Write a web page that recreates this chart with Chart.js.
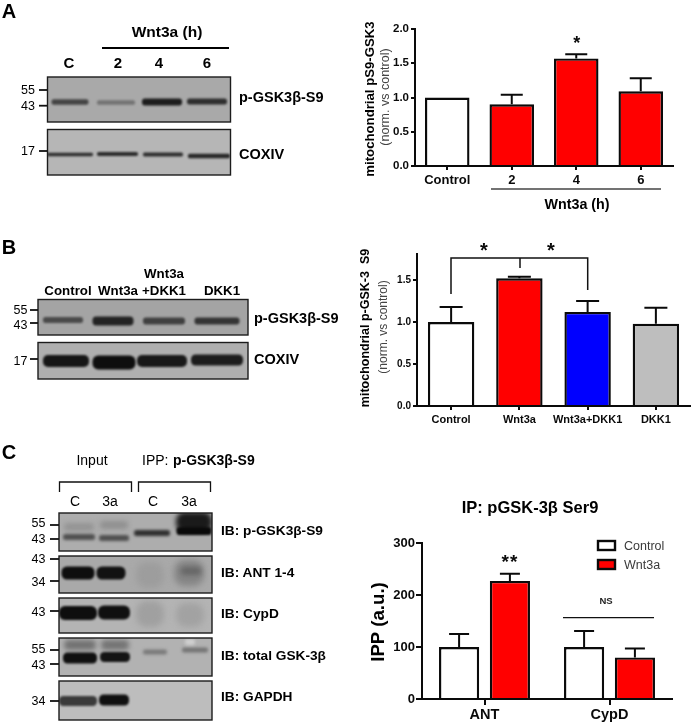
<!DOCTYPE html>
<html><head><meta charset="utf-8">
<script src="https://cdn.jsdelivr.net/npm/chart.js@4/dist/chart.umd.min.js"></script>
<style>
html,body{margin:0;padding:0;background:#fff;}
#page{position:relative;width:693px;height:724px;overflow:hidden;font-family:"Liberation Sans",Arial,sans-serif;filter:blur(0.3px);}
canvas{position:absolute;}
.t{position:absolute;white-space:pre;transform:translate(-50%,-50%);line-height:1;color:#000;z-index:5;}
.l{transform:translate(0,-50%);}
.b{font-weight:bold;}
.r{transform:translate(-50%,-50%) rotate(-90deg);}
</style></head><body>
<div id="page">
<canvas id="bg" width="693" height="724" style="left:0;top:0"></canvas>
<canvas id="chartA" width="343" height="220" style="left:350px;top:0"></canvas>
<canvas id="chartB" width="343" height="210" style="left:350px;top:225px"></canvas>
<canvas id="chartC" width="343" height="244" style="left:350px;top:480px"></canvas>
</div>
<script>
/* ---- chart values ---- */
const aCategories=['Control','2','4','6'];
const aMeans=[1.0,0.90,1.57,1.09];
const aErrors=[0,0.14,0.06,0.19];
const aColors=['#ffffff','#ff0000','#ff0000','#ff0000'];

const bCategories=['Control','Wnt3a','Wnt3a+DKK1','DKK1'];
const bMeans=[1.0,1.52,1.12,0.98];
const bErrors=[0.18,0.02,0.13,0.19];
const bColors=['#ffffff','#ff0000','#0000ff','#bebebe'];

const cCategories=['ANT','CypD'];
const cControl=[100,100];
const cControlErrors=[25,31];
const cWnt3a=[227,80];
const cWnt3aErrors=[14,17];

const INK='#0a0a0a';

/* error bars drawn through the chart's own scales */
const errorBars={id:'errorBars',afterDatasetsDraw(chart,args,opts){
  const c=chart.ctx,y=chart.scales.y;
  chart.data.datasets.forEach((ds,i)=>{
    const meta=chart.getDatasetMeta(i);
    meta.data.forEach((el,k)=>{
      const e=ds.errors[k]; if(!e) return;
      const top=y.getPixelForValue(ds.data[k]+e), cap=opts.cap;
      c.save();c.strokeStyle=INK;c.lineWidth=opts.width;
      c.beginPath();c.moveTo(el.x,el.y);c.lineTo(el.x,top);
      c.moveTo(el.x-cap/2,top);c.lineTo(el.x+cap/2,top);c.stroke();c.restore();
    });
  });
}};
/* legend for panel C, from the dataset labels and colours */
const boxLegend={id:'boxLegend',afterDraw(chart,args,opts){
  if(!opts.show) return;
  const c=chart.ctx;
  chart.data.datasets.forEach((ds,i)=>{
    const y=opts.y+i*opts.gap;
    c.save();c.fillStyle=ds.backgroundColor;c.strokeStyle=INK;c.lineWidth=2.4;
    c.fillRect(opts.x,y,17,9);c.strokeRect(opts.x,y,17,9);
    c.fillStyle='#3a3a3a';c.font='12.5px "Liberation Sans"';c.textBaseline='middle';
    c.fillText(ds.label,opts.x+26,y+6);c.restore();
  });
}};
Chart.register(errorBars,boxLegend);

function axes(o){
  const tickFont={family:'"Liberation Sans"',weight:'bold',size:o.yFont};
  return {
    x:{type:'category',offset:true,
       grid:{display:true,drawOnChartArea:false,drawTicks:true,tickLength:o.tick,color:INK,lineWidth:2,offset:false,
             tickColor:INK},
       border:{color:INK,width:2},
       ticks:{color:INK,font:{family:'"Liberation Sans"',weight:'bold',size:o.xFont},maxRotation:0,autoSkip:false,padding:o.xPad},
       afterFit(s){s.height=o.xH;}},
    y:{type:'linear',min:0,max:o.max,
       grid:{display:true,drawOnChartArea:false,drawTicks:true,tickLength:o.tick,color:INK,lineWidth:2},
       border:{color:INK,width:2},
       ticks:{color:INK,stepSize:o.step,includeBounds:false,font:tickFont,padding:o.yPad,
              callback:o.fmt},
       afterFit(s){s.width=o.yW;}}
  };
}
function base(o,legend){
  return {responsive:false,animation:false,devicePixelRatio:1,
    layout:{padding:o.pad},
    plugins:{legend:{display:false},tooltip:{enabled:false},title:{display:false},
      errorBars:{cap:o.cap,width:2},boxLegend:legend||{show:false}},
    scales:axes(o)};
}

new Chart(document.getElementById('chartA'),{type:'bar',
  data:{labels:aCategories,datasets:[{data:aMeans,errors:aErrors,backgroundColor:aColors,borderColor:INK,
    borderWidth:2.4,borderSkipped:'bottom',barPercentage:0.69,categoryPercentage:1}]},
  options:base({pad:{left:0,top:29,right:20,bottom:0},yW:65,xH:54,max:2,step:0.5,tick:4,yFont:11.5,xFont:13,xPad:3,yPad:2,cap:22,
    fmt:v=>v.toFixed(1)})});

new Chart(document.getElementById('chartB'),{type:'bar',
  data:{labels:bCategories,datasets:[{data:bMeans,errors:bErrors,backgroundColor:bColors,borderColor:INK,
    borderWidth:2.4,borderSkipped:'bottom',barPercentage:0.68,categoryPercentage:1}]},
  options:base({pad:{left:0,top:29,right:3,bottom:0},yW:67,xH:29,max:1.81,step:0.5,tick:4,yFont:10,xFont:11,xPad:3,yPad:2,cap:23,
    fmt:v=>v.toFixed(1)})});

new Chart(document.getElementById('chartC'),{type:'bar',
  data:{labels:cCategories,datasets:[
    {label:'Control',data:cControl,errors:cControlErrors,backgroundColor:'#ffffff',borderColor:INK,borderWidth:2.4,borderSkipped:'bottom',barPercentage:0.79,categoryPercentage:0.813},
    {label:'Wnt3a',data:cWnt3a,errors:cWnt3aErrors,backgroundColor:'#ff0000',borderColor:INK,borderWidth:2.4,borderSkipped:'bottom',barPercentage:0.79,categoryPercentage:0.813}]},
  options:base({pad:{left:0,top:63,right:21,bottom:0},yW:72,xH:25,max:300,step:100,tick:6,yFont:13,xFont:14.5,xPad:1,yPad:1,cap:20,
    fmt:v=>String(v)},{show:true,x:248,y:61,gap:19})});

/* ---- the western-blot photographs, painted on a backdrop ---- */
const g=document.getElementById('bg').getContext('2d');
function blot(x,y,w,h,bgc,bands){
  g.save();g.fillStyle=bgc;g.fillRect(x,y,w,h);
  g.beginPath();g.rect(x,y,w,h);g.clip();
  bands.forEach(([cx,cy,bw,bh,col,blur])=>{
    g.filter=`blur(${blur||1.2}px)`;g.fillStyle=col;
    g.beginPath();g.roundRect(cx-bw/2,cy-bh/2,bw,bh,bh/2.4);g.fill();
  });
  g.restore();g.filter='none';
  g.strokeStyle='#1c1c1c';g.lineWidth=1.4;g.strokeRect(x,y,w,h);
}
function mark(x1,x2,y){g.strokeStyle='#111';g.lineWidth=1.8;g.beginPath();g.moveTo(x1,y);g.lineTo(x2,y);g.stroke();}
function poly(pts,w,col){g.strokeStyle=col||'#111';g.lineWidth=w;g.beginPath();pts.forEach((p,i)=>i?g.lineTo(p[0],p[1]):g.moveTo(p[0],p[1]));g.stroke();}

/* panel A */
blot(47.5,77,183,45,'#a9a9a9',[[70,102,37,5.5,'#444'],[116,102.5,38,4.5,'#737373'],[162,102,40,7,'#1c1c1c'],[207,101.5,40,6,'#2e2e2e']]);
blot(47.5,129.5,183,45.5,'#b6b6b6',[[70,154.5,46,3.5,'#2e2e2e',0.9],[117.5,154,41,4,'#2a2a2a',0.9],[163,154.5,40,3.8,'#2e2e2e',0.9],[209,156,42,4.6,'#262626',0.9]]);
mark(39,47,90);mark(39,47,105.7);mark(39,47,151);
poly([[102,48],[229,48]],2,'#000');
/* panel B */
blot(38,299.5,210,35.5,'#a4a4a4',[[63,320,40,6,'#4a4a4a'],[113,321,41,9,'#232323'],[164,321,42,7,'#404040'],[217,321,45,7,'#343434']]);
blot(38,342.5,210,36.5,'#afafaf',[[66,361,46,12,'#151515'],[114,362.5,43,14,'#0e0e0e'],[162,361,50,12,'#181818'],[217,360,52,11,'#1c1c1c']]);
mark(30,38,310);mark(30,38,323);mark(30,38,359);
poly([[451,294],[451,258],[587.7,258],[587.7,290]],1.5);
poly([[520,258],[520,268]],1.5);
/* panel C */
poly([[59.5,492],[59.5,482],[131.5,482],[131.5,492]],1.3);
poly([[138.5,492],[138.5,482],[210.5,482],[210.5,492]],1.3);
blot(59,513,153,38,'#adadad',[[79,527,30,8,'#939393',2.5],[114,525,28,8,'#8f8f8f',2.5],[79,537,32,6,'#505050',1.6],[114,538,30,6,'#505050',1.6],
  [152,533,36,6,'#303030',1.6],[194,522,36,20,'#1a1a1a',2.5],[194,531,35,8,'#0a0a0a']]);
blot(59,556,153,37,'#a9a9a9',[[78,573,33,13,'#0e0e0e'],[111,573,29,13,'#121212'],[150,575,28,26,'#9d9d9d',3],[189,573,30,26,'#858585',3],[191,571,20,8,'#666',2.5]]);
blot(59,598,153,35,'#b4b4b4',[[78,613,38,14,'#0e0e0e'],[114,612.5,32,14,'#101010'],[150,614,28,26,'#a0a0a0',3],[190,615,28,24,'#a2a2a2',3]]);
blot(59,638,153,38,'#b2b2b2',[[80,645,32,10,'#727272',2.5],[115,645,28,10,'#747474',2.5],[80,658,34,11,'#101010'],[115,657,30,10,'#141414'],[155,652,24,5,'#7a7a7a',1.8],[195,650,26,5,'#747474',1.8],[190,642,10,6,'#cfcfcf',1.5]]);
blot(59,681,153,39,'#bdbdbd',[[78,701,38,10,'#3a3a3a'],[114,700,30,11,'#101010']]);
mark(50,59,525);mark(50,59,539);mark(50,59,559);mark(50,59,581);mark(50,59,611);mark(50,59,650);mark(50,59,664);mark(50,59,701);

/* right-hand annotation lines */
poly([[491,189],[661,189]],1.5,'#444');
poly([[563,617.7],[654,617.7]],1.2,'#111');

/* ---- text ---- */
const page=document.getElementById('page');
function T(text,x,y,size,cls,color,extra){
  const d=document.createElement('div');d.className='t '+(cls||'');d.textContent=text;
  d.style.left=x+'px';d.style.top=y+'px';d.style.fontSize=size+'px';
  if(color)d.style.color=color;
  if(extra)Object.assign(d.style,extra);
  page.appendChild(d);
}
const GSK='p-GSK3β-S9';
T('A',9,11,20,'b');T('B',9,247,20,'b');T('C',9,452,20,'b');
T('Wnt3a (h)',167,32,15.5,'b');
T('C',69,62,15,'b');T('2',118,62,15,'b');T('4',159,62,15,'b');T('6',207,62,15,'b');
T('55',28,90,12.5);T('43',28,106,12.5);T('17',28,151,12.5);
T(GSK,239,97,14.5,'l b');T('COXIV',239,154,14.5,'l b');

T('Control',68,291,13.3,'b');T('Wnt3a',118,291,13.3,'b');T('Wnt3a',164,274,13.3,'b');T('+DKK1',164,291,13.3,'b');T('DKK1',222,291,13.3,'b');
T('55',20.5,310,12.5);T('43',20.5,325,12.5);T('17',20.5,361,12.5);
T(GSK,254,318,14.5,'l b');T('COXIV',254,359,14.5,'l b');

T('Input',92,460,14);T('IPP:',142,460,14,'l');T(GSK,173,460,14,'l b');
T('C',75,501,14);T('3a',110,501,14);T('C',153,501,14);T('3a',189,501,14);
T('55',38.5,523,12.5);T('43',38.5,539,12.5);T('43',38.5,559,12.5);T('34',38.5,582,12.5);T('43',38.5,612,12.5);T('55',38.5,649,12.5);T('43',38.5,665,12.5);T('34',38.5,701,12.5);
T('IB: '+GSK,221,531,13.7,'l b');T('IB: ANT 1-4',221,573,13.7,'l b');T('IB: CypD',221,614,13.7,'l b');T('IB: total GSK-3β',221,656,13.7,'l b');T('IB: GAPDH',221,697,13.7,'l b');

T('mitochondrial pS9-GSK3',370,99,13.2,'r b');
T('(norm. vs control)',385,97,12.5,'r',null,{color:'#444'});
T('*',576.7,43,18,'b',INK);
T('Wnt3a (h)',577,204,14.3,'b');

T('mitochondrial p-GSK-3\u00a0\u00a0S9',365,328,12.5,'r b');
T('(norm. vs control)',383,327,12,'r',null,{color:'#444'});
T('*',484,250,20,'b',INK);T('*',551,250,20,'b',INK);

T('IP: pGSK-3β Ser9',530,507,16.5,'b');
T('IPP (a.u.)',378,622,18.7,'r b');
T('**',510,561,19,'b',INK,{letterSpacing:'1px'});
T('NS',606,601,9.5,'b','#222');
</script>
</body></html>
